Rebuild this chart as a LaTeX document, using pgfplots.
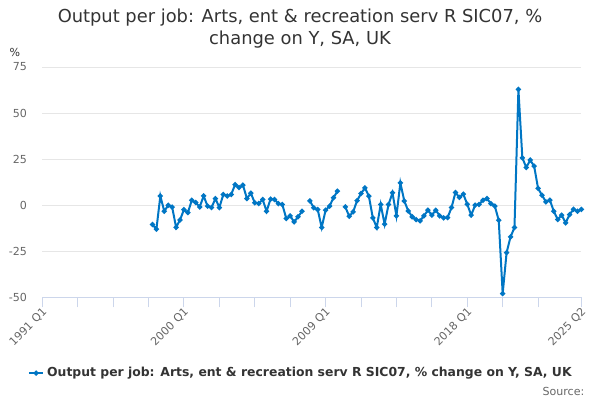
\documentclass[border=0pt]{standalone}
\usepackage{pgfplots}
\pgfplotsset{compat=1.18}
\usepackage{fontspec}
\setmainfont{DejaVu Sans}
\definecolor{serblue}{RGB}{0,118,196}
\definecolor{txt}{HTML}{333333}
\definecolor{lab}{HTML}{666666}
\definecolor{gridc}{HTML}{E6E6E6}
\definecolor{axc}{HTML}{CCD6EB}
\begin{document}
\begin{tikzpicture}[x=0.75pt,y=0.75pt]
\useasboundingbox (0,0) rectangle (600,400);
\begin{axis}[
  at={(42.3*0.75pt,102.7*0.75pt)}, anchor=south west,
  scale only axis, width=404.3pt, height=172.7pt,
  xmin=0, xmax=137, ymin=-50, ymax=75,
  enlargelimits=false,
  axis x line*=bottom, axis y line*=left,
  x axis line style={draw=axc, line width=0.75pt, -},
  y axis line style={draw=none},
  ytick={-50,-25,0,25,50,75},
  ytick style={draw=none},
  ymajorgrids, grid style={draw=gridc, line width=0.75pt},
  xtick={0,36,72,108,137},
  xticklabels={1991 Q1,2000 Q1,2009 Q1,2018 Q1,2025 Q2},
  minor xtick={9,18,27,45,54,63,81,90,99,117,126},
  xtick style={draw=axc, line width=0.75pt},
  minor x tick style={draw=axc, line width=0.75pt},
  major tick length=7.5pt, minor tick length=7.5pt,
  xtick align=outside,
  xticklabel style={rotate=45, anchor=east, font=\fontsize{8.3}{10}\selectfont, text=lab, inner sep=1pt, yshift=-3pt, xshift=1pt},
  yticklabel style={font=\fontsize{8.3}{10}\selectfont, text=lab, anchor=east, xshift=-8pt},
  /pgf/number format/assume math mode=true,
  unbounded coords=jump,
  legend style={at={(0.48,-0.329)}, anchor=center, draw=none, fill=none, font=\bfseries\fontsize{9.3}{11}\selectfont, text=txt, legend cell align=left, inner sep=0pt},
  legend image code/.code={\draw[#1] (0pt,0pt) -- (11pt,0pt); \fill[serblue] (5.5pt,0pt) circle (1.1pt);},
  clip=false,
]
\addplot[serblue, line width=1.5pt, mark=*, mark size=1.1pt, mark options={solid}] coordinates {
(28,-10.5)(29,-13)(30,5)(31,-3.3)(32,0)(33,-1)(34,-12)(35,-8)(36,-2.4)(37,-4)
(38,2.7)(39,1.5)(40,-1)(41,5)(42,-0.5)(43,-1.3)(44,3.6)(45,-1.3)(46,5.8)(47,5)
(48,5.8)(49,11.2)(50,9.6)(51,10.9)(52,3.6)(53,6.5)(54,1.3)(55,0.9)(56,3.1)(57,-3.3)
(58,3.3)(59,3.1)(60,0.9)(61,0.4)(62,-7.2)(63,-5.8)(64,-9.1)(65,-6.3)(66,-3.3)(67,nan)
(68,2.3)(69,-1.4)(70,-2.4)(71,-12.1)(72,-2.7)(73,-0.5)(74,4)(75,7.6)(76,nan)
(77,-0.9)(78,-6)(79,-3.6)(80,2.5)(81,6.3)(82,9.4)(83,4.9)(84,-6.9)(85,-12.1)(86,0.4)
(87,-10.3)(88,0.4)(89,6.7)(90,-5.8)(91,12.1)(92,2.3)(93,-3.1)(94,-6.3)(95,-7.8)(96,-8.5)
(97,-5.8)(98,-2.7)(99,-5.4)(100,-2.7)(101,-5.8)(102,-6.9)(103,-6.7)(104,-1.3)(105,6.9)(106,4.2)
(107,6)(108,0.5)(109,-5.4)(110,0)(111,0.4)(112,2.7)(113,3.6)(114,0.9)(115,-0.5)(116,-8.2)
(117,-48)(118,-25.7)(119,-17.2)(120,-12.1)(121,62.9)(122,25.7)(123,20.5)(124,24.5)(125,21.2)(126,9.1)
(127,5.4)(128,1.8)(129,2.7)(130,-3.3)(131,-7.8)(132,-5.4)(133,-9.6)(134,-5.1)(135,-2.2)(136,-3.3)(137,-2.3)
};
\addlegendentry{Output per job: Arts, ent \& recreation serv R SIC07, \% change on Y, SA, UK}
\end{axis}
\node[font=\fontsize{13.4}{16.5}\selectfont, text=txt, align=center] at (300,400-29) {Output per job: Arts, ent \& recreation serv R SIC07, \%\\change on Y, SA, UK};
\node[font=\fontsize{8.3}{10}\selectfont, text=txt] at (15,400-52) {\%};
\node[font=\fontsize{8.3}{10}\selectfont, text=lab, anchor=east] at (589,400-391) {Source:};
\end{tikzpicture}
\end{document}
